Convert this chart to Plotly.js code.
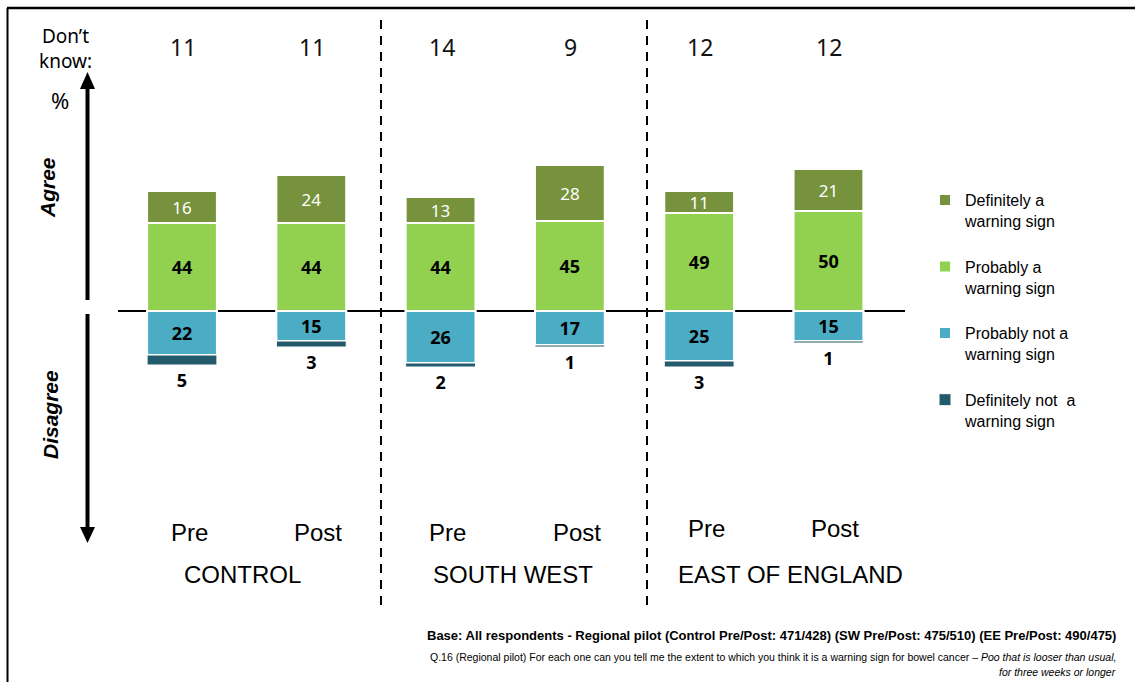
<!DOCTYPE html>
<html>
<head>
<meta charset="utf-8">
<script src="https://cdn.plot.ly/plotly-3.0.1.min.js"></script>
<style>html,body{margin:0;padding:0;background:#fff;}#chart{width:1135px;height:682px;}</style>
</head>
<body>
<div id="chart"></div>
<script>
// ---- data ----
const groups = ["CONTROL", "SOUTH WEST", "EAST OF ENGLAND"];
const waves = ["Pre", "Post", "Pre", "Post", "Pre", "Post"];
const definitelyYes = [16, 24, 13, 28, 11, 21];
const probablyYes = [44, 44, 44, 45, 49, 50];
const probablyNot = [22, 15, 26, 17, 25, 15];
const definitelyNot = [5, 3, 2, 1, 3, 1];
const dontKnow = [11, 11, 14, 9, 12, 12];
const seriesNames = ["Definitely a<br>warning sign", "Probably a<br>warning sign", "Probably not a<br>warning sign", "Definitely not  a<br>warning sign"];

// ---- helpers ----
const W = 1135, H = 682;
const px = v => v / W;           // pixel x -> paper
const py = v => 1 - v / H;        // pixel y -> paper
const xs = waves.map((_, i) => i);
const numFont = "Noto Sans, DejaVu Sans, sans-serif";
const arial = "Liberation Sans, Arial, sans-serif";

const common = {type: "bar", x: xs, width: 0.54, cliponaxis: false, constraintext: "none",
  textangle: 0, texttemplate: "%{text}", hoverinfo: "skip"};

const traces = [
  Object.assign({}, common, {name: seriesNames[1], y: probablyYes, text: probablyYes.map(String),
    marker: {color: "#92D050", line: {color: "#ffffff", width: 2}}, textposition: "inside", insidetextanchor: "middle",
    textfont: {family: numFont, size: 18, color: "#000", weight: 700}, legendrank: 2, legendgroup: "b"}),
  Object.assign({}, common, {name: seriesNames[0], y: definitelyYes, text: definitelyYes.map(String),
    marker: {color: "#77923C", line: {color: "#ffffff", width: 2}}, textposition: "inside", insidetextanchor: "middle",
    textfont: {family: numFont, size: 17, color: "#ffffff"}, legendrank: 1, legendgroup: "a"}),
  Object.assign({}, common, {name: seriesNames[2], y: probablyNot.map(v => -v), text: probablyNot.map(String),
    marker: {color: "#4BACC6", line: {color: "#ffffff", width: 2}}, textposition: "inside", insidetextanchor: "middle",
    textfont: {family: numFont, size: 18, color: "#000", weight: 700}, legendrank: 3, legendgroup: "c"}),
  Object.assign({}, common, {name: seriesNames[3], y: definitelyNot.map(v => -v), text: definitelyNot.map(String),
    marker: {color: "#245B6C", line: {color: "#ffffff", width: 1}}, textposition: "outside",
    textfont: {family: numFont, size: 18, color: "#000", weight: 700}, legendrank: 4, legendgroup: "d"})
];

const annotations = [];
// Don't know values
dontKnow.forEach((v, i) => annotations.push({x: i, xref: "x", xshift: 1, y: py(47), yref: "paper", text: String(v),
  showarrow: false, font: {family: numFont, size: 23, color: "#111"}, xanchor: "center", yanchor: "middle"}));
// Pre / Post
waves.forEach((w, i) => annotations.push({x: i, xref: "x", xshift: 7, y: py(i >= 4 ? 528 : 532), yref: "paper", text: w,
  showarrow: false, font: {family: arial, size: 24, color: "#000"}, xanchor: "center", yanchor: "middle"}));
// Group labels
const groupPx = [243, 513, 790];
groups.forEach((g, i) => annotations.push({x: px(groupPx[i]), xref: "paper", y: py(574), yref: "paper", text: g,
  showarrow: false, font: {family: arial, size: 24, color: "#000"}, xanchor: "center", yanchor: "middle"}));
// Left texts
annotations.push({x: px(65), xref: "paper", y: py(48), yref: "paper", text: "Don’t<br>know:", showarrow: false,
  font: {family: numFont, size: 19, color: "#000"}, align: "center", xanchor: "center", yanchor: "middle"});
annotations.push({x: px(60), xref: "paper", y: py(100), yref: "paper", text: "%", showarrow: false,
  font: {family: numFont, size: 22, color: "#000"}, xanchor: "center", yanchor: "middle"});
annotations.push({x: px(48), xref: "paper", y: py(188), yref: "paper", text: "<b><i>Agree</i></b>", showarrow: false,
  textangle: -90, font: {family: arial, size: 21, color: "#000"}, xanchor: "center", yanchor: "middle"});
annotations.push({x: px(50), xref: "paper", y: py(415), yref: "paper", text: "<b><i>Disagree</i></b>", showarrow: false,
  textangle: -90, font: {family: arial, size: 21, color: "#000"}, xanchor: "center", yanchor: "middle"});
// Footer
const footFamily = "Liberation Sans, Arial, sans-serif";
annotations.push({x: px(1118), xref: "paper", y: py(635), yref: "paper", xanchor: "right", yanchor: "middle", showarrow: false,
  text: "<b>Base: All respondents - Regional pilot (Control Pre/Post: 471/428) (SW Pre/Post: 475/510) (EE Pre/Post: 490/475)</b>",
  font: {family: footFamily, size: 13, color: "#000"}});
annotations.push({x: px(1118), xref: "paper", y: py(657), yref: "paper", xanchor: "right", yanchor: "middle", showarrow: false,
  text: "Q.16 (Regional pilot) For each one can you tell me the extent to which you think it is a warning sign for bowel cancer – <i>Poo that is looser than usual,</i>",
  font: {family: footFamily, size: 10.5, color: "#000"}});
annotations.push({x: px(1118), xref: "paper", y: py(672), yref: "paper", xanchor: "right", yanchor: "middle", showarrow: false,
  text: "<i>for three weeks or longer</i>", font: {family: footFamily, size: 10.5, color: "#000"}});

const shapes = [
  // frame (top and left)
  {type: "line", xref: "paper", yref: "paper", x0: px(7), x1: px(1135), y0: py(8), y1: py(8), line: {color: "#000", width: 2.5}},
  {type: "line", xref: "paper", yref: "paper", x0: px(7.5), x1: px(7.5), y0: py(8), y1: py(682), line: {color: "#000", width: 2}},
  // dashed dividers
  {type: "line", xref: "paper", yref: "paper", x0: px(381), x1: px(381), y0: py(20), y1: py(610), line: {color: "#000", width: 2, dash: "9px,7px"}},
  {type: "line", xref: "paper", yref: "paper", x0: px(647), x1: px(647), y0: py(20), y1: py(610), line: {color: "#000", width: 2, dash: "9px,7px"}},
  // agree arrow
  {type: "line", xref: "paper", yref: "paper", x0: px(87.5), x1: px(87.5), y0: py(300), y1: py(86), line: {color: "#000", width: 4}},
  {type: "path", xref: "paper", yref: "paper", path: `M${px(80)},${py(89)} L${px(95)},${py(89)} L${px(87.5)},${py(72)} Z`, fillcolor: "#000", line: {width: 0}},
  // disagree arrow
  {type: "line", xref: "paper", yref: "paper", x0: px(87.5), x1: px(87.5), y0: py(314), y1: py(530), line: {color: "#000", width: 4}},
  {type: "path", xref: "paper", yref: "paper", path: `M${px(80)},${py(527)} L${px(95)},${py(527)} L${px(87.5)},${py(543)} Z`, fillcolor: "#000", line: {width: 0}}
];

const layout = {
  width: W, height: H,
  margin: {l: 0, r: 0, t: 0, b: 0},
  paper_bgcolor: "#fff", plot_bgcolor: "rgba(0,0,0,0)",
  barmode: "relative",
  showlegend: true,
  legend: {x: px(925), y: py(183), xanchor: "left", yanchor: "top", traceorder: "grouped", tracegroupgap: 22,
    valign: "top", font: {family: arial, size: 16, color: "#000"}, bgcolor: "rgba(0,0,0,0)"},
  xaxis: {domain: [px(118), px(905)], range: [-0.495, 5.592], showgrid: false, zeroline: false, showticklabels: false,
    ticks: "", showline: false, fixedrange: true},
  yaxis: {domain: [py(560), py(30)], range: [-124.5, 140.5], showgrid: false, showticklabels: false, ticks: "",
    showline: false, zeroline: true, zerolinecolor: "#000", zerolinewidth: 1.5, fixedrange: true},
  annotations: annotations,
  shapes: shapes
};

Plotly.newPlot("chart", traces, layout, {displayModeBar: false, staticPlot: true});
</script>
</body>
</html>
